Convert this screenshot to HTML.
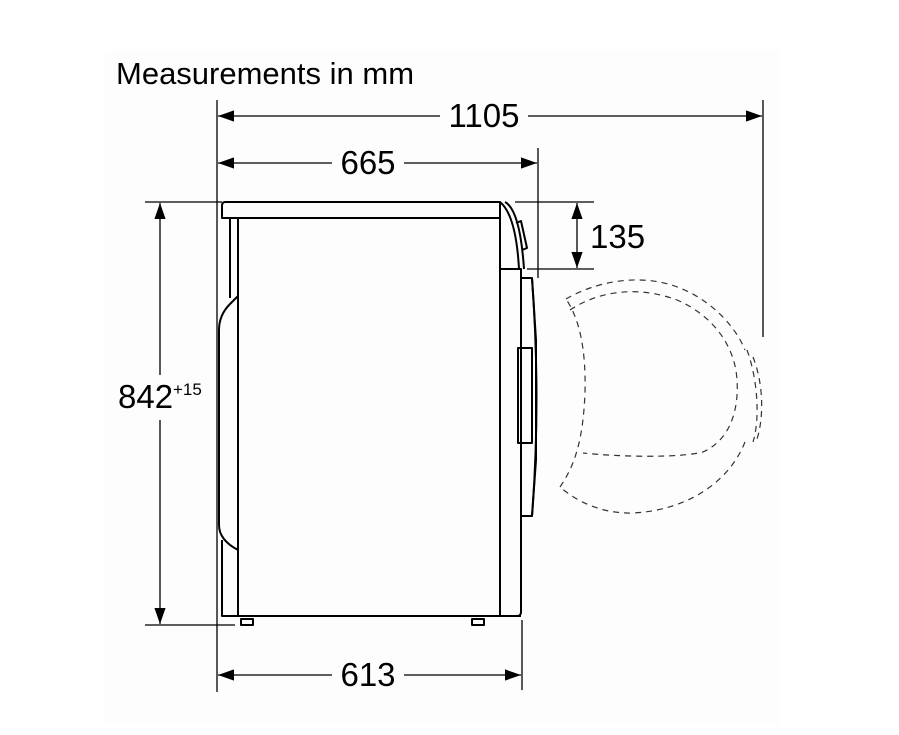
<!DOCTYPE html>
<html><head><meta charset="utf-8"><style>
html,body{margin:0;padding:0;background:#fff;}
svg{display:block;font-family:"Liberation Sans",sans-serif;}
</style></head><body>
<svg width="899" height="735" viewBox="0 0 899 735" xmlns="http://www.w3.org/2000/svg">
<defs>
<marker id="a" viewBox="0 0 10 10" refX="10" refY="5" markerWidth="16" markerHeight="16" markerUnits="userSpaceOnUse" orient="auto-start-reverse">
<path d="M0,1.5 L10,5 L0,8.5 z" fill="#000"/></marker>
</defs>
<rect x="105" y="50" width="675" height="675" fill="#fdfdfd"/>
<text x="116" y="84" font-size="31" fill="#000">Measurements in mm</text>
<g stroke="#000" stroke-width="1.3" fill="none">
<line x1="217" y1="100" x2="217" y2="692"/>
<line x1="763" y1="100" x2="763" y2="337"/>
<line x1="538" y1="148" x2="538" y2="278"/>
<line x1="515" y1="202" x2="594" y2="202"/>
<line x1="527" y1="269" x2="594" y2="269"/>
<line x1="145" y1="202" x2="222" y2="202"/>
<line x1="145" y1="625" x2="235" y2="625"/>
<line x1="522" y1="620" x2="522" y2="690"/>
<line x1="218" y1="116" x2="440" y2="116" marker-start="url(#a)"/>
<line x1="528" y1="116" x2="762" y2="116" marker-end="url(#a)"/>
<line x1="218" y1="163" x2="332" y2="163" marker-start="url(#a)"/>
<line x1="404" y1="163" x2="537" y2="163" marker-end="url(#a)"/>
<line x1="577" y1="203" x2="577" y2="268" marker-start="url(#a)" marker-end="url(#a)"/>
<line x1="160" y1="203" x2="160" y2="375" marker-start="url(#a)"/>
<line x1="160" y1="420" x2="160" y2="624" marker-end="url(#a)"/>
<line x1="218" y1="675" x2="332" y2="675" marker-start="url(#a)"/>
<line x1="404" y1="675" x2="521" y2="675" marker-end="url(#a)"/>
</g>
<g font-size="33" fill="#000">
<text x="484" y="127" text-anchor="middle">1105</text>
<text x="368" y="174" text-anchor="middle">665</text>
<text x="590" y="248">135</text>
<text x="118" y="408">842</text>
<text x="173" y="395" font-size="17">+15</text>
<text x="368" y="686" text-anchor="middle">613</text>
</g>
<g stroke="#000" stroke-width="2" fill="none" stroke-linejoin="round">
<path d="M225,202 L500,202 L500,218 L222,218 L222,206 Q222,202 225,202 Z"/>
<path d="M230,218 L230,298"/>
<path d="M238,218 L238,616"/>
<path d="M238,296 L230,304 Q219,315 219,330 L219,525 Q219,540 238,550"/>
<path d="M222,540 L222,616 L521,616"/>
<path d="M500,218 L500,616"/>
<path d="M500,202 Q516,215 519,269"/>
<path d="M505,202 Q520,210 524,269"/>
<path d="M516,223 L521,221 L527,248 L522,250"/>
<path d="M501,269 L521,269 L521,612 Q521,616 517,616"/>
<path d="M521,278 L532,278 L536,340 L536,460 L532,516 L521,516"/>
<path d="M532,278 Q541,400 532,516"/>
<rect x="518" y="348" width="14" height="95"/>
<path d="M241,619 L253,619 L253,625 L241,625 Z"/>
<path d="M472,619 L484,619 L484,625 L472,625 Z"/>
</g>
<g stroke="#333" stroke-width="1.2" fill="none" stroke-dasharray="6,5">
<path d="M566,299 C595,282 640,272 680,288 C710,300 735,325 745,350"/>
<path d="M570,310 C600,290 640,286 677,300 C712,315 735,345 737,380 C739,410 730,440 703,452 C680,458 620,457 583,453"/>
<path d="M747,350 C758,380 760,420 753,442"/>
<path d="M753,357 C764,385 764,420 756,442"/>
<path d="M745,442 C730,480 690,510 633,513 C600,514 575,500 560,487"/>
<path d="M560,487 C575,465 583,440 585,393 C586,350 580,320 566,299"/>
</g>
</svg>
</body></html>
